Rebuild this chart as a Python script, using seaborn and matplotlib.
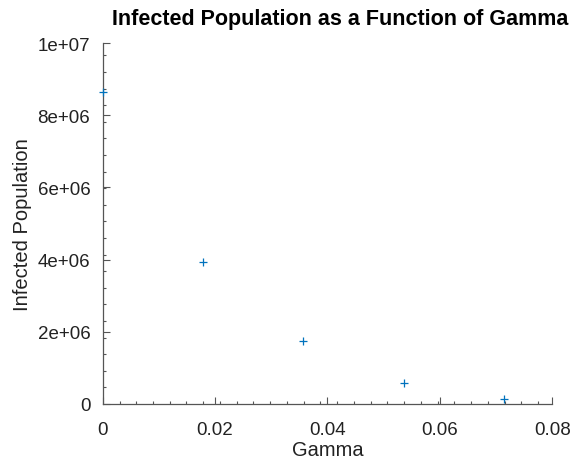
import numpy as np
import pandas as pd
import matplotlib
matplotlib.use("Agg")
import matplotlib.pyplot as plt
import seaborn as sns
from matplotlib.ticker import MultipleLocator

# values
gamma = [0.0, 0.0179, 0.0357, 0.0536, 0.0714]
infected = [8.64e6, 3.93e6, 1.74e6, 0.57e6, 0.13e6]

x_ticks = [0, 0.02, 0.04, 0.06, 0.08]
x_tick_labels = ["0", "0.02", "0.04", "0.06", "0.08"]
y_ticks = [0, 2e6, 4e6, 6e6, 8e6, 1e7]
y_tick_labels = ["0", "2e+06", "4e+06", "6e+06", "8e+06", "1e+07"]

df = pd.DataFrame({"Gamma": gamma, "Infected": infected})

sns.set_style("ticks")
plt.rcParams['font.family'] = ['Liberation Sans', 'DejaVu Sans']

axis_col = "#555555"
fig = plt.figure(figsize=(5.71, 4.6), dpi=100)
ax = fig.add_axes([0.180, 0.1196, 0.787, 0.7844])

sns.scatterplot(data=df, x="Gamma", y="Infected", marker="+", s=36,
                color="#0072BD", linewidth=0.9, ax=ax, legend=False,
                clip_on=False, zorder=4)

ax.set_xlim(0, 0.08)
ax.set_ylim(0, 1e7)
ax.set_xticks(x_ticks)
ax.set_xticklabels(x_tick_labels)
ax.set_yticks(y_ticks)
ax.set_yticklabels(y_tick_labels)
ax.xaxis.set_minor_locator(MultipleLocator(0.00298))
ax.yaxis.set_minor_locator(MultipleLocator(4.6e5))

ax.tick_params(which="major", direction="in", length=5, width=0.8,
               colors=axis_col, labelcolor="#222222", labelsize=13.5)
ax.tick_params(axis="x", which="major", pad=12)
ax.tick_params(axis="y", which="major", pad=9)
ax.tick_params(which="minor", direction="in", length=2.5, width=0.8,
               colors=axis_col)

for side in ["top", "right"]:
    ax.spines[side].set_visible(False)
for side in ["left", "bottom"]:
    ax.spines[side].set_color(axis_col)
    ax.spines[side].set_linewidth(0.9)

ax.set_xlabel("Gamma", fontsize=14.5, color="#222222", labelpad=2)
ax.set_ylabel("Infected Population", fontsize=14.5, color="#222222", labelpad=4)
title = ax.set_title("Infected Population as a Function of Gamma", fontsize=15.5,
                     fontweight="bold", color="black", pad=14)
title.set_x(0.528)

fig.savefig("out.png", dpi=100)
